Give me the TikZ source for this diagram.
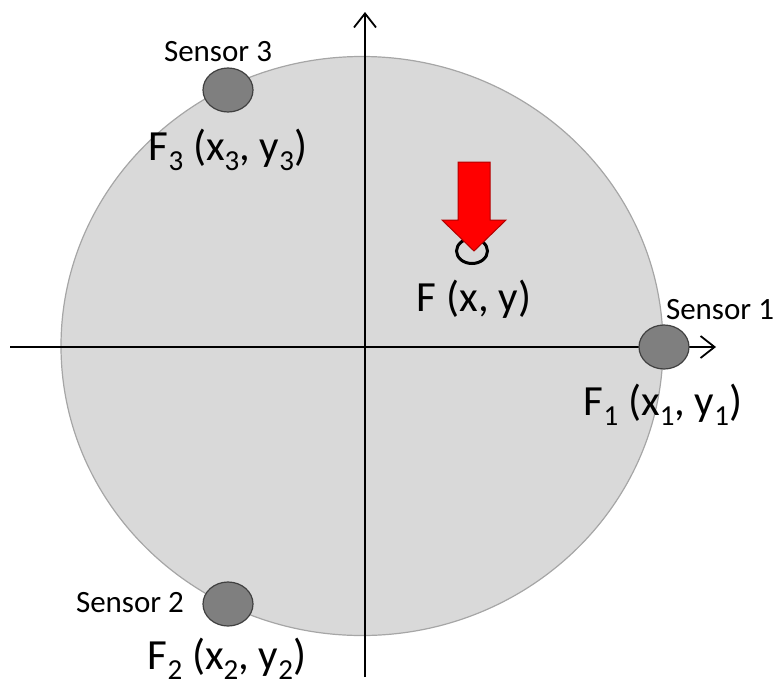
\documentclass[tikz,border=0pt]{standalone}
\usepackage{fontspec}
\setmainfont{Carlito}
\usetikzlibrary{shapes.geometric,arrows.meta}
\definecolor{discfill}{HTML}{D9D9D9}
\definecolor{discline}{HTML}{A6A6A6}
\definecolor{sensfill}{HTML}{7F7F7F}
\definecolor{sensline}{HTML}{404040}
\newcommand{\lowsub}[1]{\raisebox{-0.24em}[0pt][0pt]{\fontsize{29}{30}\selectfont #1}}
\tikzset{
  sensor/.style={ellipse, draw=sensline, fill=sensfill, line width=1.2pt, minimum width=50pt, minimum height=44pt, inner sep=0pt},
  smalltext/.style={font=\fontsize{31}{32}\selectfont, anchor=base, inner sep=0pt},
  bigtext/.style={font=\fontsize{43}{45}\selectfont, anchor=base, inner sep=0pt},
  axis/.style={line width=1.8pt, -{Straight Barb[length=14pt,width=22pt,line width=1.8pt]}},
}
\begin{document}
\begin{tikzpicture}[x=1pt,y=-1pt]
\useasboundingbox (0,0) rectangle (776,686);
% disc
\node[ellipse, draw=discline, fill=discfill, line width=1.2pt, minimum width=602pt, minimum height=579pt, inner sep=0pt] (disc) at (362,346) {};
% axes
\coordinate (xl) at (10,347);
\coordinate (xr) at (716,347);
\coordinate (yb) at (365,677);
\coordinate (yt) at (365,12);
\draw[axis] (xl) -- (xr);
\draw[axis] (yb) -- (yt);
% sensors
\node[sensor] (s1) at (664,347) {};
\node[sensor] (s3) at (228,90) {};
\node[sensor] (s2) at (228,604) {};
% sensor labels
\node[smalltext] (l1) at (720,319) {Sensor 1};
\node[smalltext] (l3) at (218,61) {Sensor 3};
\node[smalltext] (l2) at (130,612) {Sensor 2};
% coordinate labels
\node[bigtext] (f1) at (663,415) {F\lowsub{1} (x\lowsub{1}, y\lowsub{1})};
\node[bigtext] (f3) at (228,160) {F\lowsub{3} (x\lowsub{3}, y\lowsub{3})};
\node[bigtext] (f2) at (227,669) {F\lowsub{2} (x\lowsub{2}, y\lowsub{2})};
\node[bigtext] (f) at (474,311) {F (x, y)};
% force point
\node[ellipse, draw=black, line width=3pt, minimum width=31pt, minimum height=25pt, inner sep=0pt] (pt) at (472,251) {};
% red arrow
\draw[fill=red, draw=red!70!black, line width=1pt]
  (458,162) -- (490,162) -- (490,220) -- (506,220) -- (474,251) -- (442,220) -- (458,220) -- cycle;
\end{tikzpicture}
\end{document}
